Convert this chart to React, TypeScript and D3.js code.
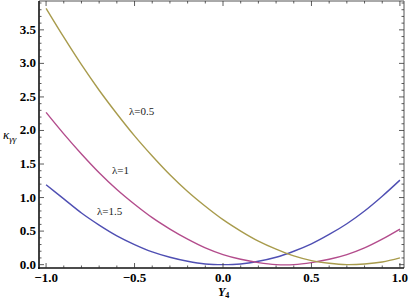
import React, { useEffect, useRef } from "react";
import * as d3 from "d3";

const xs = [-1.0, -0.9, -0.8, -0.7, -0.6, -0.5, -0.4, -0.3, -0.2, -0.1, 0.0, 0.1, 0.2, 0.3, 0.4, 0.5, 0.6, 0.7, 0.8, 0.9, 1.0];
const lambda15 = [1.19, 0.98, 0.77, 0.59, 0.43, 0.3, 0.19, 0.11, 0.05, 0.01, 0.0, 0.01, 0.05, 0.11, 0.2, 0.31, 0.45, 0.61, 0.8, 1.02, 1.26];
const lambda1 = [2.27, 1.95, 1.65, 1.37, 1.12, 0.9, 0.7, 0.53, 0.38, 0.25, 0.15, 0.08, 0.03, 0.0, 0.0, 0.03, 0.08, 0.15, 0.25, 0.38, 0.53];
const lambda05 = [3.82, 3.39, 2.98, 2.6, 2.25, 1.92, 1.62, 1.34, 1.09, 0.87, 0.67, 0.5, 0.35, 0.23, 0.13, 0.06, 0.02, 0.0, 0.01, 0.04, 0.1];
const xTicks = [-1.0, -0.5, 0.0, 0.5, 1.0];
const yTicks = [0.0, 0.5, 1.0, 1.5, 2.0, 2.5, 3.0, 3.5];

const series = [
  { name: "λ=1.5", values: lambda15, color: "#4f4fb3", lx: 97, ly: 215 },
  { name: "λ=1", values: lambda1, color: "#b34c8c", lx: 112, ly: 174 },
  { name: "λ=0.5", values: lambda05, color: "#a89b4c", lx: 129, ly: 115 },
];

const SERIF = "Liberation Serif";

const Chart = () => {
  const ref = useRef<SVGSVGElement>(null);

  useEffect(() => {
    const svg = d3.select(ref.current);
    svg.selectAll("*").remove();

    const left = 39, right = 404, top = 1, bottom = 268;
    const x = d3.scaleLinear().domain([-1.04, 1.023]).range([left, right]);
    const y = d3.scaleLinear().domain([-0.05, 3.93]).range([bottom, top]);

    const minorX = d3.range(-10, 11).map((d) => d / 10);
    const minorY = d3.range(0, 40).map((d) => d / 10);

    const g = svg.append("g");

    // curves
    series.forEach((s) => {
      const line = d3
        .line<number>()
        .x((d, i) => x(xs[i]))
        .y((d) => y(d))
        .curve(d3.curveCatmullRom);
      g.append("path")
        .attr("d", line(s.values))
        .attr("fill", "none")
        .attr("stroke", s.color)
        .attr("stroke-width", 1.4);
      g.append("text")
        .attr("x", s.lx)
        .attr("y", s.ly)
        .attr("font-family", SERIF)
        .attr("font-size", 11)
        .attr("fill", "#222")
        .text(s.name);
    });

    // frame
    g.append("line").attr("x1", left).attr("x2", right).attr("y1", top).attr("y2", top).attr("stroke", "#555").attr("stroke-width", 1);
    g.append("line").attr("x1", right).attr("x2", right).attr("y1", top).attr("y2", bottom).attr("stroke", "#555").attr("stroke-width", 1);
    g.append("line").attr("x1", left).attr("x2", left).attr("y1", top).attr("y2", bottom + 1).attr("stroke", "#111").attr("stroke-width", 1.6);
    g.append("line").attr("x1", left - 1).attr("x2", right).attr("y1", bottom).attr("y2", bottom).attr("stroke", "#111").attr("stroke-width", 1.6);

    // ticks
    const tick = (x1, y1, x2, y2) =>
      g.append("line").attr("x1", x1).attr("y1", y1).attr("x2", x2).attr("y2", y2).attr("stroke", "#333").attr("stroke-width", 0.8);

    minorX.forEach((v) => {
      const major = xTicks.some((t) => Math.abs(t - v) < 1e-6);
      const len = major ? 5 : 2.5;
      tick(x(v), bottom, x(v), bottom - len);
      tick(x(v), top, x(v), top + len);
    });
    minorY.forEach((v) => {
      const major = yTicks.some((t) => Math.abs(t - v) < 1e-6);
      const len = major ? 5 : 2.5;
      tick(left, y(v), left + len, y(v));
      tick(right, y(v), right - len, y(v));
    });

    // tick labels
    g.selectAll(".xl")
      .data(xTicks)
      .enter()
      .append("text")
      .attr("x", (d) => x(d))
      .attr("y", 282)
      .attr("text-anchor", "middle")
      .attr("font-family", SERIF)
      .attr("font-weight", "bold")
      .attr("font-size", 13)
      .text((d) => (d < 0 ? "\u2212" : "") + Math.abs(d).toFixed(1));

    g.selectAll(".yl")
      .data(yTicks)
      .enter()
      .append("text")
      .attr("x", 36)
      .attr("y", (d) => y(d) + 4)
      .attr("text-anchor", "end")
      .attr("font-family", SERIF)
      .attr("font-weight", "bold")
      .attr("font-size", 13)
      .text((d) => d.toFixed(1));

    // axis titles
    const xt = g.append("text")
      .attr("x", 218)
      .attr("y", 296)
      .attr("font-family", SERIF)
      .attr("font-weight", "bold")
      .attr("font-size", 12);
    xt.append("tspan").attr("font-style", "italic").text("Y");
    xt.append("tspan").attr("font-size", 8).attr("dy", 2).text("4");

    const yt = g.append("text")
      .attr("x", 3)
      .attr("y", 139)
      .attr("font-family", SERIF)
      .attr("font-size", 13);
    yt.append("tspan").attr("font-style", "italic").text("κ");
    yt.append("tspan").attr("font-style", "italic").attr("font-size", 9).attr("dy", 3).text("γγ");
  }, []);

  return (
    <svg
      ref={ref}
      width={409}
      height={300}
      style={{ position: "absolute", left: 0, top: 0, background: "#fff" }}
    ></svg>
  );
};

export default function App() {
  return <Chart />;
}
